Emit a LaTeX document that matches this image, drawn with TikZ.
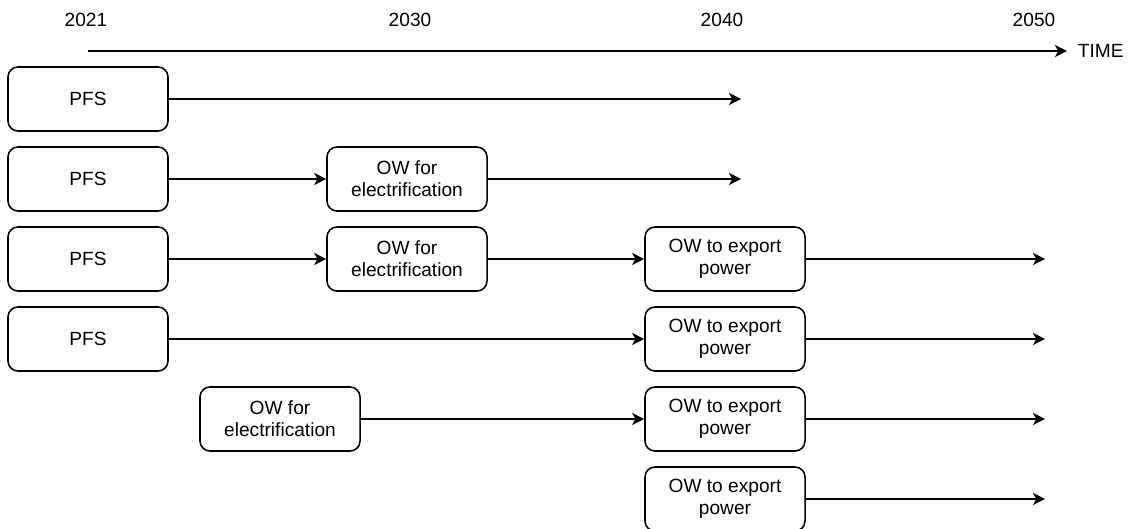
\documentclass[tikz,border=0pt]{standalone}
\usepackage{fontspec}
\setmainfont{Liberation Sans}
\usetikzlibrary{arrows.meta}

\begin{document}
\begin{tikzpicture}[x=0.025cm, y=-0.025cm]
        \tikzset{stage/.style = {shape=rectangle, draw, rounded corners=0.25cm,
                minimum width=4cm, minimum height=1.6cm, align=center,
                line width=1.1pt, font=\fontsize{13.6}{15.6}\selectfont}}
        \tikzset{year/.style = {font=\fontsize{13.6}{15.6}\selectfont}}
        \tikzset{flow/.style = {line width=1.1pt,
                -{Stealth[length=0.3cm, width=0.3cm, inset=0.08cm]}}}

        \useasboundingbox (0, 0) rectangle (1136, 528);

        % time axis
        \node[year] (y2021) at (86, 20) {2021};
        \node[year] (y2030) at (410, 20) {2030};
        \node[year] (y2040) at (722, 20) {2040};
        \node[year] (y2050) at (1034, 20) {2050};
        \coordinate (t0) at (88, 51);
        \coordinate (t1) at (1067, 51);
        \node[year, anchor=west] (time) at (1073, 51) {TIME};
        \draw[flow] (t0) to (t1);

        % row 1
        \node[stage] (pfs1) at (88, 99) {PFS};
        \coordinate (e1) at (741, 99);
        \draw[flow] (pfs1) to (e1);

        % row 2
        \node[stage] (pfs2) at (88, 179) {PFS};
        \node[stage] (el2) at (407, 179) {OW for\\electrification};
        \coordinate (e2) at (741, 179);
        \draw[flow] (pfs2) to (el2);
        \draw[flow] (el2) to (e2);

        % row 3
        \node[stage] (pfs3) at (88, 259) {PFS};
        \node[stage] (el3) at (407, 259) {OW for\\electrification};
        \node[stage] (ex3) at (725, 259) {OW to export\\power};
        \coordinate (e3) at (1045, 259);
        \draw[flow] (pfs3) to (el3);
        \draw[flow] (el3) to (ex3);
        \draw[flow] (ex3) to (e3);

        % row 4
        \node[stage] (pfs4) at (88, 339) {PFS};
        \node[stage] (ex4) at (725, 339) {OW to export\\power};
        \coordinate (e4) at (1045, 339);
        \draw[flow] (pfs4) to (ex4);
        \draw[flow] (ex4) to (e4);

        % row 5
        \node[stage] (el5) at (280, 419) {OW for\\electrification};
        \node[stage] (ex5) at (725, 419) {OW to export\\power};
        \coordinate (e5) at (1045, 419);
        \draw[flow] (el5) to (ex5);
        \draw[flow] (ex5) to (e5);

        % row 6
        \node[stage] (ex6) at (725, 499) {OW to export\\power};
        \coordinate (e6) at (1045, 499);
        \draw[flow] (ex6) to (e6);
\end{tikzpicture}
\end{document}
